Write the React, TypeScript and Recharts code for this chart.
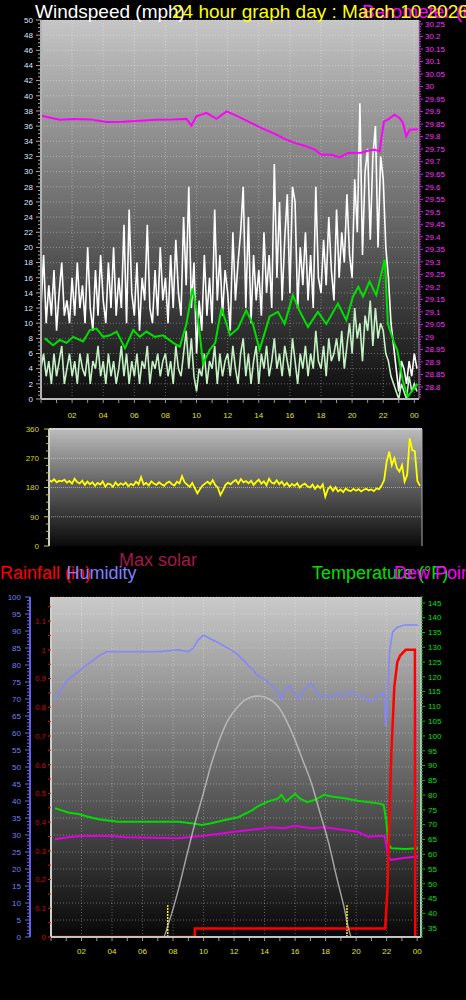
import React from "react";
import { ComposedChart, Line, XAxis, YAxis, CartesianGrid, ReferenceLine } from "recharts";

const FONT = "'Liberation Sans', Arial, Helvetica, sans-serif";

// ---------- labels ----------
const HOUR_LABELS = ["02", "04", "06", "08", "10", "12", "14", "16", "18", "20", "22", "00"];
const COMPASS_LABELS = ["N", "E", "S", "W", "N"];
const SUN_EVENTS = [7.65, 19.4];

// ---------- top panel: wind (10-minute samples, hour = index / 6) ----------
const GUST = [
  12, 19, 10, 15, 11, 17, 9, 14, 18, 11, 13, 10, 16, 11, 18, 12, 15, 10, 20, 12, 9, 17, 11, 19,
  13, 10, 18, 12, 20, 11, 16, 12, 23, 10, 25, 14, 11, 18, 9, 16, 13, 23, 12, 10, 17, 11, 20, 13,
  16, 10, 19, 12, 21, 14, 11, 24, 15, 28, 12, 18, 6, 13, 9, 19, 11, 16, 10, 25, 13, 19, 11, 17,
  14, 9, 22, 13, 18, 22, 28, 12, 24, 10, 19, 13, 17, 11, 22, 14, 19, 12, 31, 16, 26, 13, 21, 27,
  14, 28, 26, 12, 20, 15, 22, 13, 19, 12, 28, 16, 14, 21, 15, 24, 17, 13, 25, 16, 22, 18, 27, 19,
  16, 29, 22, 39, 19, 30, 33, 21, 32, 36, 20, 32, 29, 20, 16, 10, 7, 4, 1, 5, 4, 2, 5, 3, 6, 4,
];
const WIND = [
  4, 6, 3, 5, 2, 6, 3, 5, 7, 2, 4, 6, 3, 5, 2, 6, 4, 3, 6, 2, 5, 4, 7, 3,
  5, 2, 6, 3, 5, 2, 4, 7, 3, 6, 2, 5, 3, 6, 2, 5, 4, 7, 2, 5, 4, 6, 3, 5,
  6, 3, 5, 2, 7, 4, 3, 6, 9, 4, 8, 3, 1, 4, 3, 6, 2, 5, 4, 7, 2, 6, 3, 5,
  6, 3, 7, 4, 2, 6, 8, 3, 6, 2, 5, 7, 2, 6, 4, 7, 3, 5, 8, 4, 6, 3, 7, 5,
  3, 8, 5, 2, 6, 4, 7, 3, 6, 4, 9, 5, 4, 7, 3, 8, 5, 6, 8, 5, 9, 4, 7, 10,
  6, 12, 8, 10, 5, 11, 9, 13, 7, 12, 8, 10, 9, 6, 5, 3, 2, 1, 0, 2, 1, 0, 3, 1, 2, 1,
];
const AVG_HOURS = [
  0.25, 0.78, 1.2, 1.64, 2.07, 2.71, 3.14, 3.57, 4.0, 4.43, 4.86, 5.4, 5.93, 6.35, 6.78, 7.32, 7.85,
  8.5, 8.92, 9.35, 9.74, 10.1, 10.42, 10.85, 11.2, 11.6, 11.93, 12.15, 12.66, 13.19, 13.62, 14.05,
  14.7, 15.23, 15.66, 16.19, 16.6, 17.16, 17.8, 18.34, 19.09, 19.63, 20.05, 20.4, 20.7, 21.12, 21.55,
  22.1, 22.3, 22.7, 22.9, 23.25, 23.57, 23.9, 24.2,
];
const AVG_WIND = [
  8.0, 7.1, 7.8, 7.4, 8.2, 7.6, 9.1, 9.3, 8.2, 8.4, 8.9, 6.7, 9.1, 8.2, 8.9, 8.2, 8.4,
  7.4, 6.9, 9.9, 14.6, 10.4, 4.7, 6.5, 7.4, 12.0, 9.9, 8.4, 9.3, 11.7, 9.9, 6.5,
  10.9, 11.5, 9.9, 13.7, 11.7, 9.5, 11.5, 9.9, 12.6, 10.4, 13.5, 14.8, 13.5, 15.5, 13.7,
  18.4, 9.9, 7.4, 6.5, 2.5, 0.3, 1.2, 2.0,
];
const BARO_HOURS = [
  0.0, 1.2, 2.07, 3.14, 4.21, 5.28, 6.35, 7.42, 8.5, 9.35, 9.67, 9.99, 10.63, 11.28, 11.93,
  12.66, 13.5, 14.15, 15.0, 15.66, 16.3, 16.95, 17.6, 18.02, 18.67, 19.2, 19.73, 20.59, 21.0,
  21.45, 21.77, 21.87, 22.05, 22.3, 22.73, 23.05, 23.27, 23.48, 23.7, 24.23,
];
const BARO = [
  29.884, 29.868, 29.871, 29.869, 29.859, 29.86, 29.864, 29.868, 29.869, 29.871, 29.844, 29.881, 29.895, 29.871, 29.901,
  29.881, 29.855, 29.835, 29.812, 29.791, 29.775, 29.764, 29.748, 29.728, 29.728, 29.717, 29.735, 29.736, 29.744,
  29.748, 29.741, 29.788, 29.861, 29.868, 29.888, 29.875, 29.855, 29.801, 29.828, 29.83,
];

// ---------- middle panel: wind direction (10-minute samples) ----------
const DIRECTION = [
  203, 198, 205, 196, 201, 199, 204, 195, 200, 192, 207, 197, 193, 201, 188, 198, 190, 196,
  185, 194, 189, 199, 183, 192, 190, 182, 196, 186, 193, 188, 195, 184, 191, 187, 198, 190,
  212, 189, 194, 186, 199, 192, 188, 196, 190, 185, 194, 198, 191, 186, 198, 193, 215, 196,
  189, 182, 194, 178, 162, 175, 186, 192, 198, 190, 203, 187, 180, 157, 171, 188, 195, 190,
  198, 203, 192, 206, 196, 200, 193, 201, 188, 197, 204, 192, 199, 187, 207, 195, 192, 202,
  190, 198, 186, 194, 183, 191, 185, 193, 180, 188, 192, 184, 180, 189, 176, 186, 178, 190,
  152, 175, 183, 170, 181, 168, 174, 166, 177, 171, 169, 176, 170, 175, 168, 173, 176, 171,
  174, 169, 177, 175, 186, 203, 260, 290, 249, 270, 240, 229, 249, 198, 218, 331, 295, 292,
  200, 185,
];

// ---------- bottom panel ----------
const HUM_HOURS = [
  0.26, 0.59, 1.13, 1.79, 2.23, 2.66, 3.1, 3.65, 5.0, 7.0, 8.34, 9.0, 9.32, 9.65, 9.98, 10.2, 10.52,
  10.96, 11.4, 11.83, 12.27, 12.7, 13.14, 13.58, 14.0, 14.45, 14.78, 15.1, 15.3, 15.6, 15.9, 16.2,
  16.5, 17.0, 17.3, 17.6, 17.9, 18.4, 18.8, 19.25, 19.7, 20.1, 20.7, 21.0, 21.43, 21.76, 21.87,
  21.93, 22.05, 22.2, 22.4, 22.7, 23.2, 24.05,
];
const HUMIDITY = [
  70.2, 72.2, 75.8, 78.0, 79.7, 81.0, 82.6, 83.9, 83.9, 83.9, 84.5, 83.9, 84.9, 87.4, 88.8, 88.3, 87.5,
  86.6, 85.4, 84.4, 82.9, 81.0, 79.0, 76.8, 75.8, 74.1, 72.7, 69.9, 72.7, 73.8, 72.2, 69.9,
  72.2, 74.6, 73.1, 70.5, 71.2, 70.5, 71.7, 70.8, 72.2, 71.0, 70.2, 69.2, 71.0, 72.0, 68.7,
  61.9, 69.9, 84.4, 89.8, 91.1, 91.8, 91.8,
];
const TEMP_HOURS = [
  0.26, 1.13, 1.79, 2.45, 3.1, 4.4, 6.2, 8.34, 9.2, 9.9, 10.5, 11.4, 12.27, 13.14, 13.58, 14.2,
  14.9, 15.1, 15.4, 16.0, 16.3, 16.8, 17.3, 17.9, 18.4, 19.25, 20.1, 21.43, 21.8, 21.97, 22.1,
  22.3, 23.2, 24.05,
];
const TEMPERATURE = [
  75.6, 74.1, 73.6, 72.7, 71.8, 71.0, 71.0, 71.0, 70.5, 69.9, 70.5, 71.6, 72.5, 74.7, 76.3, 77.8,
  78.9, 80.1, 77.8, 80.4, 78.9, 77.6, 78.4, 80.1, 79.5, 78.9, 78.1, 77.2, 76.7, 71.6, 63.7,
  62.0, 61.8, 62.0,
];
const DEW_HOURS = [
  0.26, 1.13, 2.0, 3.97, 4.9, 8.34, 9.9, 11.0, 12.7, 14.45, 15.3, 16.0, 17.07, 17.9, 18.8, 20.1,
  20.8, 21.43, 21.87, 22.1, 22.3, 23.2, 24.05,
];
const DEW_POINT = [
  65.1, 65.7, 66.2, 66.2, 65.7, 65.4, 66.2, 66.9, 68.0, 69.1, 68.8, 69.6, 68.8, 69.1, 68.5, 67.6,
  65.9, 66.2, 66.2, 59.2, 58.1, 58.8, 59.2,
];
const RAIN_HOURS = [0, 9.42, 9.43, 21.9, 22.05, 22.14, 22.3, 22.5, 22.7, 22.9, 23.25, 23.85, 23.87, 24.1];
const RAINFALL = [0, 0, 0.03, 0.03, 0.164, 0.338, 0.63, 0.87, 0.958, 0.981, 1.0, 1.0, 0, 0];
const SOLAR_HOURS = [
  0, 7.36, 7.7, 8.34, 8.9, 9.43, 10.0, 10.52, 11.0, 11.6, 12.2, 12.7, 13.6, 14.3, 14.9, 15.5, 16.0,
  16.5, 17.07, 17.6, 18.2, 18.7, 19.25, 19.5, 19.7, 24.1,
];
const MAX_SOLAR = [
  0, 0, 40, 138, 240, 334, 425, 511, 575, 638, 675, 697, 709, 700, 677, 630, 579,
  520, 452, 370, 276, 180, 79, 25, 0, 0,
];

// ---------- helpers ----------
function seq(a: number, b: number, step: number): number[] {
  const out: number[] = [];
  const n = Math.round((b - a) / step);
  for (let i = 0; i <= n; i++) out.push(Math.round((a + i * step) * 10000) / 10000);
  return out;
}
const isMult = (v: number, s: number) => Math.abs(v / s - Math.round(v / s)) < 1e-6;
const pairs = (hs: number[], vs: number[]) => hs.map((h, i) => ({ h, v: vs[i] }));

const topData = GUST.map((g, i) => ({ h: i / 6, gust: g, wind: WIND[i] }));
const avgData = pairs(AVG_HOURS, AVG_WIND);
const baroData = pairs(BARO_HOURS, BARO);
const dirData = DIRECTION.map((d, i) => ({ h: i / 6, v: d }));
const humData = pairs(HUM_HOURS, HUMIDITY);
const tempData = pairs(TEMP_HOURS, TEMPERATURE);
const dewData = pairs(DEW_HOURS, DEW_POINT);
const rainData = pairs(RAIN_HOURS, RAINFALL);
const solarData = pairs(SOLAR_HOURS, MAX_SOLAR);

// rain axis (default axis of the bottom chart) spans 0..1.184 in; humidity axis 0..100 %
const RAIN_MAX = 1.184;
const HUM_TO_RAIN = RAIN_MAX / 100;

type YTickOpts = {
  side: "left" | "right";
  majorStep: number;
  majorLen: number;
  minorLen: number;
  gap: number;
  tickColor: string;
  color: string;
  fontSize: number;
  fmt: (v: number) => string;
};
const makeYTick = (o: YTickOpts) => (props: any) => {
  const { x, y, payload } = props;
  const v = Number(payload.value);
  const major = isMult(v, o.majorStep);
  const len = major ? o.majorLen : o.minorLen;
  const dir = o.side === "left" ? -1 : 1;
  return (
    <g>
      {len > 0 && <line x1={x} x2={x + dir * len} y1={y} y2={y} stroke={o.tickColor} strokeWidth={1} />}
      {major && (
        <text
          x={x + dir * (o.majorLen + o.gap)}
          y={y}
          dy="0.35em"
          textAnchor={o.side === "left" ? "end" : "start"}
          fill={o.color}
          fontSize={o.fontSize}
          fontFamily={FONT}
        >
          {o.fmt(v)}
        </text>
      )}
    </g>
  );
};

const makeXTick = (base: number) => (props: any) => {
  const { x, y, payload } = props;
  const v = Number(payload.value);
  const lab = v > 0 && v % 2 === 0 ? HOUR_LABELS[v / 2 - 1] : null;
  return (
    <g>
      <line x1={x} x2={x} y1={y + 1} y2={y + 4} stroke="#9a9a9a" strokeWidth={1} />
      {lab && (
        <text x={x} y={y + base} textAnchor="middle" fill="#e0e020" fontSize={8} fontFamily={FONT}>
          {lab}
        </text>
      )}
    </g>
  );
};

const compassTick = (props: any) => {
  const { x, y, payload } = props;
  const v = Number(payload.value);
  return (
    <text x={x + 14} y={y} dy="0.36em" fill="#ffff00" fontSize={17} fontFamily={FONT}>
      {COMPASS_LABELS[Math.round(v / 90)]}
    </text>
  );
};

const GRID_STROKE = "rgba(255,255,255,0.33)";
const evenHours = seq(2, 24, 2);

function TopChart() {
  return (
    <ComposedChart width={466} height={419} data={topData} margin={{ top: 20, right: 0, bottom: 0, left: 0 }}>
      <defs>
        <linearGradient id="gTop" x1="0" y1="0" x2="0" y2="1">
          <stop offset="0" stopColor="#c6c6c6" />
          <stop offset="0.5" stopColor="#6c6c6c" />
          <stop offset="1" stopColor="#0c0c0c" />
        </linearGradient>
      </defs>
      <CartesianGrid
        fill="url(#gTop)"
        fillOpacity={1}
        stroke={GRID_STROKE}
        strokeDasharray="1 2"
        horizontalValues={seq(0, 50, 2)}
        verticalValues={evenHours}
      />
      <XAxis
        dataKey="h"
        type="number"
        domain={[0, 24.3]}
        allowDataOverflow
        ticks={seq(0, 24, 1)}
        interval={0}
        height={20}
        tickSize={0}
        tickMargin={0}
        tickLine={false}
        axisLine={{ stroke: "#bcbcbc", strokeWidth: 2 }}
        tick={makeXTick(18.5)}
      />
      <YAxis
        type="number"
        domain={[0, 50]}
        allowDataOverflow
        ticks={seq(0, 50, 0.5)}
        interval={0}
        width={41}
        tickSize={0}
        tickMargin={0}
        tickLine={false}
        axisLine={{ stroke: "#b4b4b4", strokeWidth: 2 }}
        tick={makeYTick({
          side: "left", majorStep: 2, majorLen: 5, minorLen: 3, gap: 3,
          tickColor: "#a8a8a8", color: "#dde6ff", fontSize: 8, fmt: (v) => String(v),
        })}
      />
      <YAxis
        yAxisId="baro"
        orientation="right"
        type="number"
        domain={[28.752, 30.266]}
        allowDataOverflow
        ticks={seq(28.76, 30.26, 0.01)}
        interval={0}
        width={47}
        tickSize={0}
        tickMargin={0}
        tickLine={false}
        axisLine={{ stroke: "#a0a0a0", strokeWidth: 1 }}
        tick={makeYTick({
          side: "right", majorStep: 0.05, majorLen: 4, minorLen: 2, gap: 2,
          tickColor: "#e020e0", color: "#ff30ff", fontSize: 8, fmt: (v) => String(+v.toFixed(2)),
        })}
      />
      <Line dataKey="gust" stroke="#ffffff" strokeWidth={1.6} dot={false} isAnimationActive={false} />
      <Line dataKey="wind" stroke="#c4f2c4" strokeWidth={1.6} dot={false} isAnimationActive={false} />
      <Line data={avgData} dataKey="v" stroke="#00e000" strokeWidth={2} dot={false} isAnimationActive={false} />
      <Line data={baroData} yAxisId="baro" dataKey="v" stroke="#ff00ff" strokeWidth={2} dot={false} isAnimationActive={false} />
    </ComposedChart>
  );
}

function MiddleChart() {
  return (
    <ComposedChart width={466} height={136} data={dirData} margin={{ top: 14, right: 0, bottom: 5, left: 0 }}>
      <defs>
        <linearGradient id="gMid" x1="0" y1="0" x2="0" y2="1">
          <stop offset="0" stopColor="#bcbcbc" />
          <stop offset="0.5" stopColor="#5c5c5c" />
          <stop offset="1" stopColor="#0a0a0a" />
        </linearGradient>
      </defs>
      <CartesianGrid
        fill="url(#gMid)"
        fillOpacity={1}
        stroke="rgba(255,255,255,0.45)"
        strokeDasharray="1 1"
        vertical={false}
        horizontalValues={[90, 180, 270]}
      />
      <XAxis
        dataKey="h"
        type="number"
        domain={[0, 24.3]}
        allowDataOverflow
        height={0}
        tick={false}
        tickLine={false}
        axisLine={{ stroke: "#cfcfcf", strokeWidth: 2 }}
      />
      <YAxis
        type="number"
        domain={[0, 360]}
        allowDataOverflow
        ticks={seq(0, 360, 22.5)}
        interval={0}
        width={49}
        tickSize={0}
        tickMargin={0}
        tickLine={false}
        axisLine={{ stroke: "#cfcfcf", strokeWidth: 2 }}
        tick={makeYTick({
          side: "left", majorStep: 90, majorLen: 5, minorLen: 3, gap: 5,
          tickColor: "#c8c800", color: "#d8d800", fontSize: 8, fmt: (v) => String(v),
        })}
      />
      <YAxis
        yAxisId="cmp"
        orientation="right"
        type="number"
        domain={[0, 360]}
        ticks={[0, 90, 180, 270, 360]}
        interval={0}
        width={44}
        tickSize={0}
        tickMargin={0}
        tickLine={false}
        axisLine={{ stroke: "#a8a8a8", strokeWidth: 1 }}
        tick={compassTick}
      />
      <ReferenceLine y={360} stroke="#d0d0d0" strokeWidth={2} />
      <Line dataKey="v" stroke="#ffff00" strokeWidth={1.8} dot={false} isAnimationActive={false} />
    </ComposedChart>
  );
}

function BottomChart() {
  return (
    <ComposedChart width={466} height={382} margin={{ top: 17, right: 0, bottom: 0, left: 0 }}>
      <defs>
        <linearGradient id="gBot" x1="0" y1="0" x2="0" y2="1">
          <stop offset="0" stopColor="#cacaca" />
          <stop offset="0.5" stopColor="#6a6a6a" />
          <stop offset="1" stopColor="#070707" />
        </linearGradient>
      </defs>
      <CartesianGrid
        fill="url(#gBot)"
        fillOpacity={1}
        stroke={GRID_STROKE}
        strokeDasharray="1 2"
        horizontalValues={seq(0, 100, 5).map((h) => h * HUM_TO_RAIN)}
        verticalValues={evenHours}
      />
      <XAxis
        dataKey="h"
        type="number"
        domain={[0, 24.25]}
        allowDataOverflow
        ticks={seq(0, 24, 1)}
        interval={0}
        height={25}
        tickSize={0}
        tickMargin={0}
        tickLine={false}
        axisLine={{ stroke: "#c4c4c4", strokeWidth: 2 }}
        tick={makeXTick(17)}
      />
      <YAxis
        type="number"
        domain={[0, RAIN_MAX]}
        allowDataOverflow
        ticks={seq(0, 1.15, 0.05)}
        interval={0}
        width={21}
        tickSize={0}
        tickMargin={0}
        tickLine={false}
        axisLine={{ stroke: "#cfcfcf", strokeWidth: 2 }}
        tick={makeYTick({
          side: "left", majorStep: 0.1, majorLen: 3, minorLen: 3, gap: 2,
          tickColor: "#d02020", color: "#d00000", fontSize: 8, fmt: (v) => String(+v.toFixed(1)),
        })}
      />
      <YAxis
        yAxisId="hum"
        type="number"
        domain={[0, 100]}
        allowDataOverflow
        ticks={seq(0, 100, 1)}
        interval={0}
        width={30}
        tickSize={0}
        tickMargin={0}
        tickLine={false}
        axisLine={{ stroke: "#6060f0", strokeWidth: 2 }}
        tick={makeYTick({
          side: "left", majorStep: 5, majorLen: 5, minorLen: 3, gap: 4,
          tickColor: "#6a6af0", color: "#7080f0", fontSize: 8, fmt: (v) => String(v),
        })}
      />
      <YAxis
        yAxisId="temp"
        orientation="right"
        type="number"
        domain={[32, 147]}
        allowDataOverflow
        ticks={seq(32, 147, 1)}
        interval={0}
        width={45}
        tickSize={0}
        tickMargin={0}
        tickLine={false}
        axisLine={{ stroke: "#bdbdbd", strokeWidth: 2 }}
        tick={makeYTick({
          side: "right", majorStep: 5, majorLen: 4, minorLen: 2, gap: 3,
          tickColor: "#00c800", color: "#00e000", fontSize: 8, fmt: (v) => String(v),
        })}
      />
      <YAxis yAxisId="solar" hide type="number" domain={[0, 1000]} allowDataOverflow />
      {SUN_EVENTS.map((h) => (
        <ReferenceLine
          key={h}
          segment={[{ x: h, y: 0 }, { x: h, y: 0.111 }]}
          stroke="#ffff00"
          strokeWidth={1.5}
          strokeDasharray="2 1"
        />
      ))}
      <Line data={humData} yAxisId="hum" dataKey="v" stroke="#8585ff" strokeWidth={1.5} dot={false} isAnimationActive={false} />
      <Line data={tempData} yAxisId="temp" dataKey="v" stroke="#00dd00" strokeWidth={2} dot={false} isAnimationActive={false} />
      <Line data={dewData} yAxisId="temp" dataKey="v" stroke="#e000e0" strokeWidth={2} dot={false} isAnimationActive={false} />
      <Line data={rainData} dataKey="v" stroke="#ff0000" strokeWidth={2.5} dot={false} isAnimationActive={false} />
      <Line data={solarData} yAxisId="solar" type="monotone" dataKey="v" stroke="#c8c8c8" strokeOpacity={0.75} strokeWidth={1.5} dot={false} isAnimationActive={false} />
    </ComposedChart>
  );
}

export default function App() {
  return (
    <div
      style={{
        position: "absolute",
        left: 0,
        top: 0,
        width: 466,
        height: 1000,
        background: "#000",
        overflow: "hidden",
        fontFamily: FONT,
      }}
    >
      <div style={{ position: "absolute", left: 0, top: 0 }}>
        <TopChart />
      </div>
      <div style={{ position: "absolute", left: 0, top: 415 }}>
        <MiddleChart />
      </div>
      <div style={{ position: "absolute", left: 0, top: 580 }}>
        <BottomChart />
      </div>
      <svg width={466} height={1000} style={{ position: "absolute", left: 0, top: 0, pointerEvents: "none" }}>
        <g fontFamily={FONT}>
          <text x={35} y={17.5} fill="#ffffff" fontSize={19}>Windspeed (mph)</text>
          <text x={362} y={17.5} fill="#ff00ff" fontSize={19}>Barometer (in)</text>
          <text x={172} y={17.5} fill="#ffff00" fontSize={19}>24 hour graph day : March 10 2026</text>
          <text x={119} y={566} fill="#a01848" fontSize={18}>Max solar</text>
          <text x={0} y={578.5} fill="#ff0000" fontSize={18}>Rainfall (in)</text>
          <text x={66.5} y={578.5} fill="#8080ff" fontSize={18}>Humidity</text>
          <text x={312} y={578.5} fill="#00e000" fontSize={18}>Temperature (°F)</text>
          <text x={394} y={578.5} fill="#ff00ff" fontSize={18}>Dew Point</text>
        </g>
      </svg>
    </div>
  );
}
